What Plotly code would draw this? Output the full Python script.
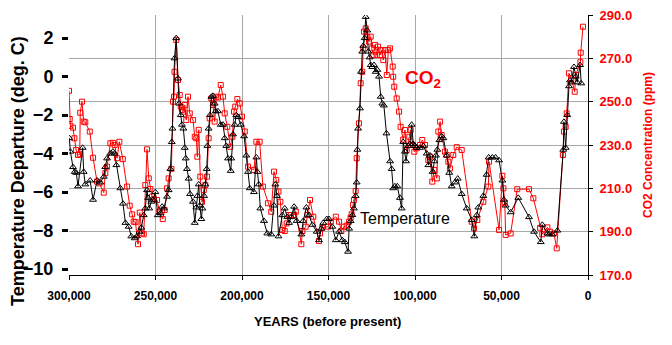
import plotly.graph_objects as go

# ---------------- data ----------------
temp_years = [299800, 299200, 297700, 296700, 295800, 294800, 292100, 291500, 290600, 287800,
              286100, 283800, 281900, 279900, 279000, 278000, 276100, 274600, 273600, 272600,
              270300, 268800, 267400, 265500, 264000, 262000, 260700, 259300, 258200, 256800,
              255900, 254900, 254300, 253600, 252400, 251400, 250100, 248700, 247200, 246200,
              245200, 243300, 242400, 241400, 240600, 240200, 239000, 238000, 237000, 236400,
              235400, 234700, 233900, 233100, 232500, 231800, 230800, 230000, 228300, 227300,
              226400, 225800, 225000, 224400, 223500, 222900, 221900, 221200, 220400, 220000,
              219300, 218500, 217700, 216800, 215800, 215200, 213900, 212300, 211000, 210000,
              209100, 208100, 206500, 206200, 205200, 204200, 203300, 202300, 200700, 198800,
              197500, 196500, 195500, 193100, 191700, 191100, 190300, 189400, 187300, 185400,
              183100, 181500, 180700, 179800, 178900, 176700, 175300, 173800, 172800, 171500,
              169900, 168400, 165700, 164600, 162800, 161300, 159300, 156800, 155500, 154200,
              153000, 151000, 149700, 147800, 145800, 143900, 142000, 140600, 138700, 138100,
              137200, 136200, 135300, 134300, 133700, 133300, 132900, 131800, 131200, 130500,
              129900, 129100, 128500, 127600, 127000, 126200, 125600, 124700, 123700, 122700,
              121800, 120800, 119800, 118900, 118000, 116500, 114400, 113500, 112600, 111600,
              110200, 108700, 107700, 106800, 105800, 105200, 103900, 102900, 101900, 101000,
              100000, 99000, 97100, 95200, 93200, 92300, 91300, 89800, 88800, 87900,
              87100, 85900, 84600, 83600, 81700, 80200, 78800, 76900, 75300, 73000,
              70100, 67200, 65700, 64300, 63400, 60500, 58600, 57400, 55300, 53400,
              51400, 49500, 48600, 47600, 44700, 40300, 34100, 31200, 27300, 26400,
              23500, 22500, 20600, 17700, 14300, 13900, 12900, 12000, 11000, 10400,
              9700, 8100, 7100, 6200, 4600, 3900]
temp_values = [-3.2, -3.9, -4.7, -4.95, -5.0, -5.7, -3.7, -4.95, -5.6, -5.4,
               -6.4, -5.4, -5.5, -5.2, -4.7, -4.25, -4.0, -3.9, -4.0, -4.6,
               -5.8, -6.6, -7.6, -7.8, -8.3, -8.4, -8.3, -8.06, -7.85, -7.2,
               -6.85, -5.9, -6.3, -6.85, -6.5, -6.4, -6.0, -7.2, -7.1, -6.76,
               -6.85, -6.24, -5.9, -4.8, -3.4, -2.7, 0.95, 2.0, -0.1, -1.4,
               -2.0, -2.5, -2.7, -3.7, -4.25, -4.8, -5.3, -6.1, -6.5, -7.6,
               -6.8, -6.2, -5.6, -6.7, -7.4, -6.85, -6.2, -5.6, -4.8, -3.6,
               -2.7, -2.0, -1.05, -1.0, -1.4, -1.8, -1.8, -2.5, -2.5, -3.2,
               -3.6, -4.25, -4.9, -4.25, -3.0, -2.5, -2.0, -2.1, -2.5, -3.1,
               -4.1, -4.95, -5.8, -6.0, -4.2, -4.95, -5.6, -6.85, -7.5, -8.15,
               -8.2, -6.7, -5.6, -6.2, -8.3, -7.2, -6.85, -7.3, -7.6, -7.3,
               -6.76, -7.5, -8.2, -7.5, -6.8, -7.2, -7.7, -8.06, -8.5, -7.9,
               -7.6, -7.4, -7.4, -7.8, -8.5, -8.06, -8.5, -8.6, -9.1, -7.9,
               -7.5, -7.2, -6.85, -6.2, -5.5, -3.8, -2.7, -1.65, 0.25, 1.3,
               1.6, 2.0, 3.1, 2.4, 1.3, 1.0, 0.6, 0.5, 0.6, 0.25,
               0.35, 0.0, -1.05, -1.4, -1.5, -2.95, -4.4, -4.8, -5.8, -5.7,
               -5.7, -6.3, -6.85, -3.4, -3.9, -4.4, -3.6, -3.5, -2.5, -3.5,
               -3.6, -3.7, -3.7, -3.6, -4.0, -4.6, -4.1, -4.95, -4.4, -4.1,
               -3.8, -3.3, -3.1, -3.2, -4.1, -5.0, -5.7, -5.5, -5.3, -6.1,
               -6.85, -7.45, -8.3, -7.2, -6.8, -6.2, -5.1, -4.2, -4.2, -4.2,
               -4.35, -5.4, -6.4, -6.7, -7.05, -6.3, -7.3, -8.06, -8.6, -7.7,
               -8.15, -8.2, -8.2, -8.0, -3.8, -2.35, -3.7, -2.0, -0.5, -0.2,
               -0.3, 0.5, 0.0, -0.3, 0.6, -0.35]

co2_years = [300000, 299600, 299200, 297700, 296900, 295900, 294800, 293800, 293500, 292500,
             291500, 290600, 288000, 286100, 283800, 282400, 279900, 279000, 278000, 276100,
             274600, 273600, 272200, 270900, 268900, 266400, 264900, 263500, 262600, 261600,
             260100, 259100, 257800, 256800, 255900, 254900, 253900, 253000, 252000, 251000,
             249100, 247800, 245800, 244700, 243300, 242400, 240800, 239900, 239300, 239000,
             238000, 237000, 236000, 235400, 234700, 234100, 233100, 232200, 231200, 230200,
             228300, 227300, 226400, 225800, 225000, 224100, 223100, 222100, 221200, 220200,
             219300, 218700, 217700, 216800, 215800, 214800, 213900, 212300, 211000, 210000,
             208500, 206800, 205600, 204600, 203900, 202700, 201300, 200000, 198400, 196500,
             193100, 191700, 189800, 187900, 185000, 183100, 181500, 180200, 178900, 177800,
             176700, 175300, 174200, 172800, 171800, 169900, 168900, 165700, 165100, 163200,
             162200, 160700, 158800, 155500, 154900, 153600, 150300, 148700, 145800, 143900,
             142600, 141000, 139500, 138100, 137200, 136600, 135800, 135300, 134300, 133700,
             132400, 131400, 130500, 129900, 129500, 128500, 127600, 126600, 125600, 125000,
             124100, 123100, 122100, 121400, 120200, 119500, 118300, 117300, 116300, 115400,
             114400, 112900, 112600, 112000, 110600, 109200, 108300, 106800, 105800, 104800,
             103300, 102500, 101300, 100400, 99000, 97100, 95800, 94200, 92300, 91300,
             90000, 88800, 87400, 86500, 85500, 84600, 82700, 81700, 80700, 79800,
             77900, 75900, 73000, 67200, 65900, 64000, 60500, 57600, 57200, 51400,
             49500, 48900, 48100, 47600, 44700, 40900, 34100, 31600, 27700, 26400,
             23500, 22000, 19700, 18100, 14500, 13900, 12900, 12300, 11000, 9700,
             7700, 7100, 4400, 4200, 2900]
co2_values = [255.0, 242.0, 238.9, 238.0, 233.1, 227.7, 225.4, 225.7, 244.9, 250.0,
              240.8, 240.5, 236.2, 224.1, 213.1, 212.3, 208.0, 217.0, 220.0, 230.8,
              231.0, 230.0, 223.9, 231.5, 223.5, 210.8, 202.0, 198.0, 194.6, 194.4,
              184.2, 198.8, 189.2, 188.8, 211.5, 228.0, 214.6, 209.7, 206.2, 205.0,
              204.6, 199.2, 195.8, 200.0, 210.0, 214.6, 219.0, 250.0, 252.3, 263.8,
              278.5, 260.0, 253.1, 247.7, 246.2, 245.4, 248.5, 241.5, 252.3, 244.6,
              241.5, 233.8, 233.1, 224.6, 237.0, 215.4, 203.8, 209.2, 211.5, 215.4,
              233.1, 242.3, 251.5, 248.5, 240.8, 252.3, 251.9, 257.7, 252.3, 244.6,
              238.4, 229.2, 233.8, 245.4, 247.7, 251.2, 249.2, 243.1, 236.2, 220.0,
              218.5, 231.5, 231.5, 210.8, 203.1, 199.2, 217.7, 213.9, 208.5, 203.8,
              190.8, 190.3, 193.8, 197.7, 197.7, 197.7, 199.2, 184.2, 190.3, 192.3,
              197.7, 204.6, 196.9, 185.7, 189.2, 191.8, 192.3, 194.6, 196.9, 194.6,
              190.3, 192.3, 192.8, 194.6, 196.5, 198.0, 202.3, 204.6, 208.8, 223.9,
              240.0, 258.5, 263.8, 274.6, 282.3, 283.8, 280.0, 277.7, 280.0, 274.6,
              271.5, 276.2, 271.5, 275.4, 271.5, 273.8, 269.2, 273.8, 262.3, 273.8,
              274.6, 266.2, 261.5, 256.9, 251.5, 245.4, 238.4, 232.5, 236.9, 227.7,
              233.8, 236.9, 230.0, 226.9, 228.5, 230.0, 232.3, 230.0, 223.1, 224.6,
              213.1, 218.5, 214.6, 236.2, 240.8, 234.6, 226.9, 225.4, 222.3, 219.2,
              225.4, 229.0, 227.7, 194.6, 191.5, 195.4, 203.8, 210.8, 222.3, 190.8,
              215.8, 210.0, 203.4, 188.5, 189.2, 209.6, 209.6, 205.4, 191.8, 188.8,
              192.0, 190.0, 189.2, 182.3, 225.4, 236.2, 238.4, 244.6, 263.1, 260.8,
              254.6, 262.3, 268.2, 272.6, 284.6]

year_ticks = [300000, 250000, 200000, 150000, 100000, 50000, 0]
year_labels = ["300,000", "250,000", "200,000", "150,000", "100,000", "50,000", "0"]
temp_ticks = [-10, -8, -6, -4, -2, 0, 2]
co2_ticks = [170, 190, 210, 230, 250, 270, 290]

FONT = "Arial, 'Liberation Sans', sans-serif"
RED = "#ff0000"
GRID = "#a8a8a8"

fig = go.Figure()
fig.add_trace(go.Scatter(
    x=co2_years, y=co2_values, yaxis="y", mode="lines+markers",
    line=dict(color=RED, width=1),
    marker=dict(symbol="square-open", size=5, color=RED, line=dict(width=1, color=RED)),
    showlegend=False, cliponaxis=True))
fig.add_trace(go.Scatter(
    x=temp_years, y=temp_values, yaxis="y2", mode="lines+markers",
    line=dict(color="black", width=1),
    marker=dict(symbol="triangle-up-open", size=6, color="black", line=dict(width=1, color="black")),
    showlegend=False, cliponaxis=True))

fig.update_layout(
    width=672, height=345,
    margin=dict(l=69, r=84, t=15, b=70, autoexpand=False),
    paper_bgcolor="white", plot_bgcolor="white",
    font=dict(family=FONT, color="black"),
    xaxis=dict(range=[300000, 0], tickvals=year_ticks, ticktext=year_labels,
               ticks="outside", ticklen=4, tickcolor="black", automargin=False,
               showline=True, linecolor="black", linewidth=1,
               showgrid=True, gridcolor=GRID, gridwidth=1, zeroline=False,
               tickfont=dict(family=FONT, size=12, color="black", weight="bold"),
               ticklabelstandoff=6),
    yaxis=dict(side="right", range=[170, 290], tickvals=co2_ticks, tickformat=".1f",
               ticks="outside", ticklen=4, tickcolor="black", automargin=False,
               showline=True, linecolor="black", linewidth=1,
               showgrid=True, gridcolor=GRID, gridwidth=1, zeroline=False,
               tickfont=dict(family=FONT, size=13, color=RED, weight="bold"),
               ticklabelstandoff=4),
    yaxis2=dict(overlaying="y", side="left", range=[-10.31, 3.2], tickvals=temp_ticks,
                ticks="outside", ticklen=6, tickwidth=3, tickcolor="black", automargin=False,
                showline=False, showgrid=False, zeroline=False,
                tickfont=dict(family=FONT, size=18, color="black", weight="bold"),
                ticklabelstandoff=5),
    annotations=[
        dict(text="Temperature Departure (deg. C)", xref="paper", yref="paper",
             x=-0.0983, y=0.40, xanchor="center", yanchor="middle", textangle=-90,
             showarrow=False, font=dict(family=FONT, size=18, color="black", weight="bold")),
        dict(text="CO2 Concentration (ppm)", xref="paper", yref="paper",
             x=1.1156, y=0.5, xanchor="center", yanchor="middle", textangle=-90,
             showarrow=False, font=dict(family=FONT, size=12, color=RED, weight="bold")),
        dict(text="YEARS (before present)", xref="paper", yref="paper",
             x=0.499, y=-0.177, xanchor="center", yanchor="middle",
             showarrow=False, font=dict(family=FONT, size=13, color="black", weight="bold")),
        dict(text="CO<sub>2</sub>", xref="paper", yref="paper",
             x=0.6435, y=0.755, xanchor="left", yanchor="middle",
             showarrow=False, font=dict(family=FONT, size=19, color=RED, weight="bold")),
        dict(text="Temperature", xref="paper", yref="paper",
             x=0.5568, y=0.219, xanchor="left", yanchor="middle",
             showarrow=False, font=dict(family=FONT, size=16, color="black")),
    ],
)

fig.write_html("out.html")
